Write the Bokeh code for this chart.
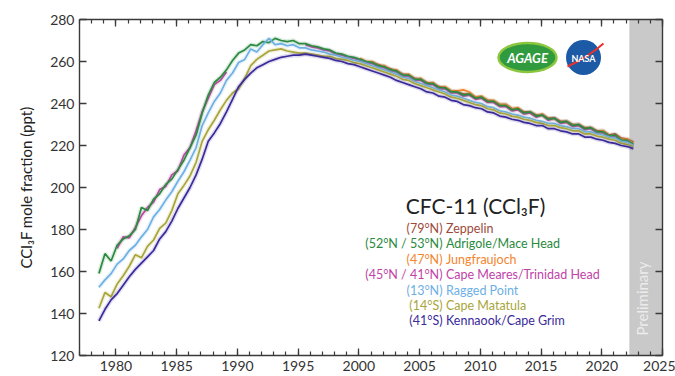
import math
from bokeh.plotting import figure
from bokeh.models import LinearAxis, SingleIntervalTicker, Label, Range1d
from bokeh.embed import file_html
from bokeh.resources import INLINE

# ---------------- data (half-year samples) ----------------
STEP = 0.5
GRID_START = 1978.6

kennaook_cape_grim = [
    136.5, 142.0, 146.5, 149.5, 153.5, 157.5, 161.0, 164.0, 167.0, 170.0,
    175.5, 179.0, 184.0, 190.0, 195.0, 200.0, 206.0, 213.5, 222.0, 226.0,
    230.5, 236.0, 242.0, 248.0, 251.5, 254.5, 257.0, 258.5, 260.0, 261.0,
    262.0, 262.5, 263.0, 263.0, 263.5, 263.0, 262.5, 262.0, 261.5, 260.5,
    260.0, 259.0, 258.5, 257.5, 256.5, 255.5, 254.5, 253.5, 252.5, 251.0,
    250.0, 249.0, 248.0, 247.0, 245.5, 245.0, 243.5, 243.0, 241.5, 241.0,
    239.5, 239.0, 238.0, 237.5, 236.0, 235.5, 234.0, 233.5, 232.5, 232.0,
    231.0, 230.5, 229.5, 229.5, 228.0, 228.0, 227.0, 226.5, 225.5, 225.5,
    224.0, 224.0, 223.0, 222.5, 221.5, 221.0, 220.0, 219.5, 218.5,
]

cape_matatula = [
    142.5, 150.0, 148.0, 154.0, 158.0, 162.5, 168.0, 166.5, 172.0, 175.0,
    180.5, 183.0, 189.0, 197.0, 201.0, 205.5, 212.0, 222.0, 227.5, 232.0,
    237.0, 241.5, 245.0, 247.0, 252.0, 258.0, 261.0, 263.0, 265.0, 265.5,
    266.0, 265.0, 264.5, 264.0, 264.0, 263.5, 263.0, 262.5, 262.5, 261.5,
    261.0, 260.5, 259.5, 259.0, 258.0, 257.0, 256.0, 255.0, 254.0, 253.0,
    251.5, 251.0, 249.5, 248.5, 247.5, 246.5, 245.5, 244.5, 243.0, 242.5,
    241.5, 240.5, 239.5, 239.0, 237.5, 237.0, 235.5, 235.0, 234.0, 233.5,
    232.5, 232.0, 231.0, 230.5, 229.5, 229.5, 228.5, 228.0, 227.0, 227.0,
    225.5, 225.5, 224.5, 224.0, 223.0, 222.5, 221.0, 220.5, 219.5,
]

ragged_point = [
    152.5, 156.0, 159.0, 163.5, 166.0, 170.0, 172.5, 176.5, 180.0, 186.0,
    189.5, 194.0, 198.0, 203.0, 207.5, 213.0, 219.0, 229.5, 235.5, 241.0,
    245.0, 251.0, 254.5, 259.5, 261.0, 266.0, 264.5, 268.0, 271.0, 268.0,
    268.5, 267.5, 268.0, 266.5, 266.5, 265.5, 265.0, 264.5, 263.5, 263.0,
    262.0, 261.5, 260.5, 260.0, 259.0, 258.0, 257.0, 256.0, 255.0, 254.0,
    252.5, 252.0, 250.5, 249.5, 248.5, 247.5, 246.5, 245.5, 244.0, 243.5,
    242.5, 241.5, 240.5, 240.0, 238.5, 238.0, 236.5, 236.0, 235.0, 234.5,
    233.5, 233.0, 232.0, 231.5, 230.5, 230.5, 229.5, 229.0, 228.0, 228.0,
    226.5, 226.5, 225.5, 225.0, 224.0, 223.5, 222.0, 221.5, 220.0,
]

adrigole_mace_head = [
    159.0, 168.5, 165.0, 172.5, 175.5, 177.0, 180.0, 190.5, 189.0, 194.5,
    197.0, 201.5, 204.0, 208.5, 213.0, 219.0, 225.0, 235.5, 244.0, 250.0,
    252.5, 256.0, 260.5, 264.0, 265.5, 268.0, 267.5, 269.5, 269.0, 271.0,
    270.0, 269.5, 270.0, 268.5, 268.5, 267.5, 267.0, 266.0, 265.5, 264.0,
    263.5, 262.5, 262.0, 261.0, 260.0, 259.5, 258.0, 257.5, 256.0, 255.5,
    253.5, 253.5, 251.5, 251.5, 249.5, 249.5, 247.5, 247.5, 245.5, 245.5,
    244.0, 244.5, 242.5, 243.0, 241.0, 241.0, 239.0, 239.0, 237.0, 237.5,
    235.5, 236.0, 234.0, 234.5, 232.5, 233.0, 231.0, 231.5, 229.5, 230.0,
    228.0, 228.5, 226.5, 226.5, 224.5, 225.0, 222.5, 222.5, 220.5,
]

CAPE_MEARES_START = 1980.1
cape_meares = [
    171.0, 176.5, 176.0, 181.0, 186.5, 190.5, 193.0, 199.0, 200.5, 206.0,
    208.0, 215.5, 219.0, 227.0, 236.0, 242.5, 249.0, 251.0, 255.0,
]

TRINIDAD_START = 1995.6
trinidad_head = [
    268.0, 267.0, 266.5, 265.5, 265.0, 263.5, 263.0, 262.0, 261.5, 260.5,
    259.5, 259.0, 257.5, 257.0, 255.5, 255.0, 253.0, 253.0, 251.0, 251.0,
    249.0, 249.0, 247.0, 247.0, 245.0, 245.0, 243.5, 244.0, 242.0, 242.5,
    240.5, 240.5, 238.5, 238.5, 236.5, 237.0, 235.0, 235.5, 233.5, 234.5,
    232.0, 233.0, 230.5, 231.0, 229.0, 229.5, 227.5, 228.0, 226.0, 226.0,
    224.0, 224.5, 222.0, 222.0, 220.0,
]

JUNGFRAUJOCH_START = 2000.1
jungfraujoch = [
    261.5, 260.0, 260.0, 258.0, 258.0, 256.0, 256.0, 253.5, 254.0, 251.5,
    252.0, 249.5, 250.0, 247.5, 248.0, 246.0, 246.0, 246.5, 245.5, 243.0,
    243.5, 241.5, 241.5, 239.5, 239.5, 237.5, 238.0, 235.5, 236.0, 234.0,
    235.0, 232.5, 233.0, 231.0, 231.5, 229.5, 230.0, 228.0, 228.5, 226.5,
    227.0, 224.5, 225.0, 223.0, 223.0, 221.0,
]

ZEPPELIN_START = 2001.1
zeppelin = [
    259.5, 258.5, 257.5, 256.5, 255.5, 254.0, 253.5, 252.0, 251.5, 250.0,
    249.5, 248.0, 247.5, 246.0, 245.5, 244.5, 244.5, 243.0, 243.0, 241.5,
    241.0, 239.5, 239.5, 237.5, 237.5, 236.0, 236.0, 234.5, 234.5, 233.0,
    233.0, 231.5, 231.5, 230.0, 230.0, 228.5, 228.5, 227.0, 227.0, 225.0,
    225.5, 223.5, 223.0, 221.5,
]

legend_coords = ["(79°N)", "(52°N / 53°N)", "(47°N)", "(45°N / 41°N)", "(13°N)", "(14°S)", "(41°S)"]
legend_sites = ["Zeppelin", "Adrigole/Mace Head", "Jungfraujoch", "Cape Meares/Trinidad Head",
                "Ragged Point", "Cape Matatula", "Kennaook/Cape Grim"]

C_BROWN = "#9c4a3a"
C_GREEN = "#2a8a3e"
C_ORANGE = "#f3852e"
C_MAGENTA = "#c044a8"
C_LBLUE = "#6db0e4"
C_OLIVE = "#a9a53a"
C_PURPLE = "#3a2a9a"
legend_colors = [C_BROWN, C_GREEN, C_ORANGE, C_MAGENTA, C_LBLUE, C_OLIVE, C_PURPLE]

X0, X1 = 1977, 2025
Y0, Y1 = 120, 280
PRELIM_START = 2022.27

FONT = "Lato"

# ---------------- figure ----------------
W, H = 675, 376
FL, FR, FT, FB = 79, 662, 19, 355
p = figure(width=W, height=H, output_backend="svg", toolbar_location=None, tools="",
           x_range=Range1d(X0, X1), y_range=Range1d(Y0, Y1),
           min_border_left=FL, min_border_right=W - FR, min_border_top=FT,
           min_border_bottom=H - FB)
p.background_fill_color = "white"
p.border_fill_color = "white"
p.outline_line_color = None
p.xgrid.visible = False
p.ygrid.visible = False

sx = (FR - FL) / (X1 - X0)
sy = (FB - FT) / (Y1 - Y0)


def xd(px):
    return X0 + (px - FL) / sx


def yd(py):
    return Y1 - (py - FT) / sy


AX_COL = "#3a3a3a"


def style_axis(ax, show_labels):
    ax.axis_line_color = AX_COL
    ax.axis_line_width = 1.4
    ax.major_tick_line_color = AX_COL
    ax.minor_tick_line_color = AX_COL
    ax.major_tick_line_width = 1.3
    ax.minor_tick_line_width = 1.2
    ax.major_tick_in = 7
    ax.major_tick_out = 0
    ax.minor_tick_in = 4
    ax.minor_tick_out = 0
    if show_labels:
        ax.major_label_text_font = FONT
        ax.major_label_text_font_size = "14px"
        ax.major_label_text_color = "#333333"
        ax.major_label_standoff = 5
    else:
        ax.major_label_text_alpha = 0
        ax.major_label_text_color = None
        ax.major_label_text_font_size = "1px"
        ax.major_label_standoff = 0


xb = p.xaxis[0]
xb.ticker = SingleIntervalTicker(interval=5, num_minor_ticks=5)
style_axis(xb, True)

yl = p.yaxis[0]
yl.ticker = SingleIntervalTicker(interval=20, num_minor_ticks=0)
style_axis(yl, True)
yl.axis_label = "CCl₃F mole fraction (ppt)"
yl.axis_label_text_font = FONT
yl.axis_label_text_font_style = "normal"
yl.axis_label_text_font_size = "15px"
yl.axis_label_text_color = "#222222"
yl.axis_label_standoff = 12

xt = LinearAxis(ticker=SingleIntervalTicker(interval=5, num_minor_ticks=5))
style_axis(xt, False)
p.add_layout(xt, "above")

yr = LinearAxis(ticker=SingleIntervalTicker(interval=20, num_minor_ticks=0))
style_axis(yr, False)
p.add_layout(yr, "right")

# preliminary band
p.quad(left=[PRELIM_START], right=[X1], bottom=[Y0], top=[Y1],
       fill_color="#c9c9c9", line_color=None)
p.add_layout(Label(x=xd(641), y=yd(298), text="Preliminary", angle=math.pi / 2,
                   text_align="center", text_baseline="middle", text_font=FONT,
                   text_font_size="15px", text_color="#ececec"))


def draw(start, vals, color):
    xs = [start + STEP * i for i in range(len(vals))]
    p.line(xs, vals, line_color=color, line_width=4.5, line_alpha=0.16)
    p.line(xs, vals, line_color=color, line_width=1.7)


# drawing order: northern sites underneath, southern on top
draw(ZEPPELIN_START, zeppelin, C_BROWN)
draw(JUNGFRAUJOCH_START, jungfraujoch, C_ORANGE)
draw(TRINIDAD_START, trinidad_head, C_MAGENTA)
draw(CAPE_MEARES_START, cape_meares, C_MAGENTA)
draw(GRID_START, adrigole_mace_head, C_GREEN)
draw(GRID_START, ragged_point, C_LBLUE)
draw(GRID_START, cape_matatula, C_OLIVE)
draw(GRID_START, kennaook_cape_grim, C_PURPLE)

# title and legend text
p.add_layout(Label(x=xd(475), y=yd(205), text="CFC-11 (CCl₃F)", text_align="center",
                   text_baseline="middle", text_font=FONT, text_font_size="21px",
                   text_color="#222222"))
leg_y0, leg_dy = 228, 15.4
for i, (c, s, col) in enumerate(zip(legend_coords, legend_sites, legend_colors)):
    yy = yd(leg_y0 + i * leg_dy)
    p.add_layout(Label(x=xd(442), y=yy, text=c, text_align="right", text_baseline="middle",
                       text_font=FONT, text_font_size="12.5px", text_color=col))
    p.add_layout(Label(x=xd(445.5), y=yy, text=s, text_align="left", text_baseline="middle",
                       text_font=FONT, text_font_size="12.5px", text_color=col))

# logos
p.ellipse(x=[xd(527)], y=[yd(57)], width=[58 / sx], height=[29 / sy],
          fill_color="#2f9a3e", line_color="#8cc63f", line_width=2.5)
p.add_layout(Label(x=xd(527), y=yd(57), text="AGAGE", text_align="center",
                   text_baseline="middle", text_font=FONT, text_font_style="bold italic",
                   text_font_size="13px", text_color="white"))
p.scatter(x=[xd(583)], y=[yd(57)], size=35, marker="circle",
          fill_color="#1d5aa6", line_color=None)
p.bezier(x0=[xd(567)], y0=[yd(66)], x1=[xd(603)], y1=[yd(43)],
         cx0=[xd(585)], cy0=[yd(58)], cx1=[xd(595)], cy1=[yd(50)],
         line_color="#e8322a", line_width=2)
p.add_layout(Label(x=xd(583), y=yd(58), text="NASA", text_align="center",
                   text_baseline="middle", text_font=FONT, text_font_style="bold",
                   text_font_size="9px", text_color="white"))

# header / footer texts
p.add_layout(Label(x=xd(662), y=yd(8), text="http://agage.mit.edu/", text_align="right",
                   text_baseline="middle", text_font=FONT, text_font_size="10px",
                   text_color="#222222"))
p.add_layout(Label(x=xd(668), y=yd(334), text="Mar-2023", angle=-math.pi / 2,
                   text_align="center", text_baseline="middle", text_font=FONT,
                   text_font_size="8px", text_color="#333333"))
# blue corner ribbon at the top-right corner
p.add_layout(Label(x=xd(675), y=yd(0), text="\u25e5", text_align="right",
                   text_baseline="top", text_font="DejaVu Sans",
                   text_font_size="16px", text_color="#1f4c9c"))

open("out.html", "w").write(file_html(p, INLINE))
